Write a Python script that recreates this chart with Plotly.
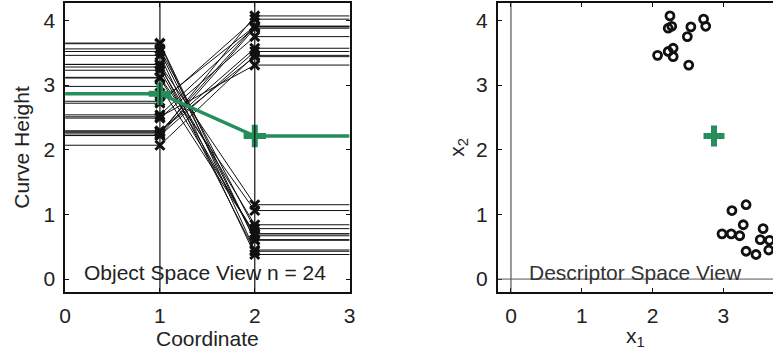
import plotly.graph_objects as go

# Curve heights at coordinate 1 (x1) and coordinate 2 (x2), n = 24
x1_vals = [2.245, 2.22, 2.27, 2.72, 2.75, 2.54, 2.49, 2.07, 2.22, 2.29, 2.29, 2.51,
           3.12, 3.32, 2.98, 3.11, 3.23, 3.28, 3.32, 3.46, 3.56, 3.52, 3.65, 3.64]
x2_vals = [4.07, 3.88, 3.91, 4.02, 3.91, 3.90, 3.75, 3.46, 3.52, 3.57, 3.44, 3.31,
           1.06, 1.15, 0.70, 0.70, 0.67, 0.84, 0.43, 0.38, 0.78, 0.61, 0.60, 0.45]
coords = [0, 1, 2, 3]
left_ticks = [0, 1, 2, 3]
right_ticks = [0, 1, 2, 3]
y_ticks = [0, 1, 2, 3, 4]

n = len(x1_vals)
mean1 = sum(x1_vals) / n
mean2 = sum(x2_vals) / n

GREEN = "#258e5b"
FONT = "Liberation Sans, Arial, sans-serif"
TXT = "#222222"
FS = 21

fig = go.Figure()

# object space curves
lx, ly = [], []
for a, b in zip(x1_vals, x2_vals):
    lx += coords + [None]
    ly += [a, a, b, b, None]
fig.add_trace(go.Scatter(x=lx, y=ly, mode="lines", line=dict(color="#111111", width=1),
                         hoverinfo="skip", showlegend=False, xaxis="x", yaxis="y"))
mx = [1] * n + [2] * n
my = list(x1_vals) + list(x2_vals)
fig.add_trace(go.Scatter(x=mx, y=my, mode="markers",
                         marker=dict(symbol="x-thin", size=9, color="#111111",
                                     line=dict(color="#111111", width=3)),
                         showlegend=False, xaxis="x", yaxis="y"))
# mean curve
fig.add_trace(go.Scatter(x=coords, y=[mean1, mean1, mean2, mean2], mode="lines",
                         line=dict(color=GREEN, width=3.5), showlegend=False, xaxis="x", yaxis="y"))
fig.add_trace(go.Scatter(x=[1, 2], y=[mean1, mean2], mode="markers",
                         marker=dict(symbol="cross-thin", size=16, color=GREEN,
                                     line=dict(color=GREEN, width=6)),
                         showlegend=False, xaxis="x", yaxis="y"))

# descriptor space
fig.add_trace(go.Scatter(x=x1_vals, y=x2_vals, mode="markers",
                         marker=dict(symbol="circle-open", size=8, color="#111111",
                                     line=dict(color="#111111", width=2.8)),
                         showlegend=False, xaxis="x2", yaxis="y2"))
fig.add_trace(go.Scatter(x=[mean1], y=[mean2], mode="markers",
                         marker=dict(symbol="cross-thin", size=15, color=GREEN,
                                     line=dict(color=GREEN, width=6)),
                         showlegend=False, xaxis="x2", yaxis="y2"))

axis_common = dict(showgrid=False, zeroline=False, showline=True, linecolor="#111111", linewidth=1.6,
                   ticks="inside", ticklen=4, tickcolor="#111111",
                   tickfont=dict(family=FONT, size=FS, color=TXT))

ydom = [1 - 292 / 358, 1 - 3 / 358]
title_font = dict(family=FONT, size=FS, color=TXT)

fig.update_layout(
    width=779, height=358, margin=dict(l=0, r=0, t=0, b=0),
    paper_bgcolor="white", plot_bgcolor="white",
    xaxis=dict(domain=[60 / 779, 349 / 779], range=[0, 3], tickvals=left_ticks, mirror="allticks",
               anchor="y", title=dict(text="Coordinate", font=title_font, standoff=4),
               ticklabelstandoff=4, **axis_common),
    yaxis=dict(domain=ydom, range=[-0.2, 4.27], tickvals=y_ticks, mirror="allticks", anchor="x",
               title=dict(text="Curve Height", font=title_font, standoff=8),
               ticklabelstandoff=4, **axis_common),
    xaxis2=dict(domain=[499.5 / 779, 1.0], range=[-0.186, 3.7], tickvals=right_ticks, mirror="allticks",
                anchor="y2", title=dict(text="x<sub>1</sub>", font=title_font, standoff=2),
                ticklabelstandoff=4, **axis_common),
    yaxis2=dict(domain=ydom, range=[-0.2, 4.27], tickvals=y_ticks, mirror=False, anchor="x2",
                title=dict(text="x<sub>2</sub>", font=title_font, standoff=6),
                ticklabelstandoff=4, **axis_common),
    shapes=[
        dict(type="line", xref="x", yref="y domain", x0=1, x1=1, y0=0, y1=1, line=dict(color="#111111", width=1.2)),
        dict(type="line", xref="x", yref="y domain", x0=2, x1=2, y0=0, y1=1, line=dict(color="#111111", width=1.2)),
        dict(type="line", xref="x2", yref="y2 domain", x0=0, x1=0, y0=0, y1=1, line=dict(color="#333333", width=1)),
        dict(type="line", xref="x2 domain", yref="y2", x0=0, x1=1, y0=0, y1=0, line=dict(color="#555555", width=1)),
    ],
    annotations=[
        dict(text="Object Space View n = 24", xref="x", yref="y", x=1.47, y=0.1, showarrow=False,
             font=dict(family=FONT, size=FS, color=TXT), xanchor="center", yanchor="middle"),
        dict(text="Descriptor Space View", xref="x2", yref="y2", x=0.22, y=0.1, showarrow=False,
             font=dict(family=FONT, size=FS, color="#333333"), xanchor="left", yanchor="middle"),
    ],
)

fig.write_html("out.html")
